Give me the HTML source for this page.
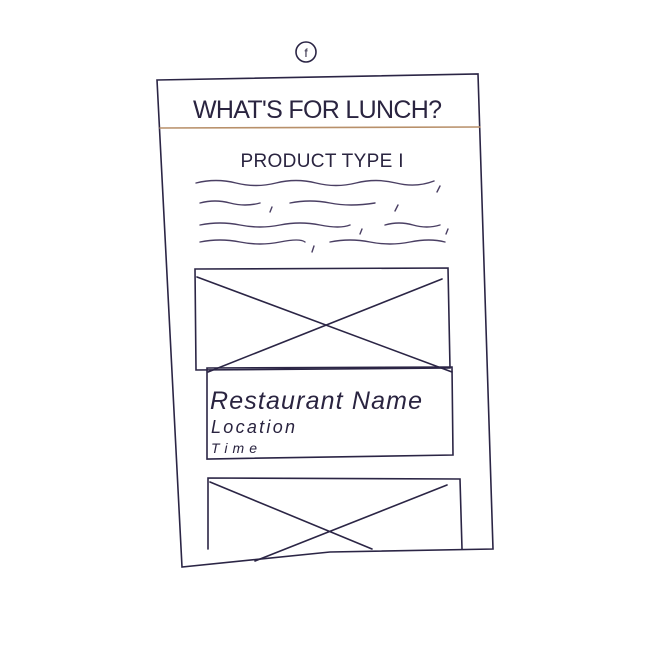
<!DOCTYPE html>
<html><head><meta charset="utf-8"><style>
html,body{margin:0;padding:0;background:#fff;width:646px;height:646px;overflow:hidden}
svg{display:block}
text{font-family:"Liberation Sans",sans-serif;fill:#2a2440}
</style></head><body>
<svg width="646" height="646" viewBox="0 0 646 646">
<g stroke="#2b2545" stroke-width="1.6" fill="none" stroke-linecap="round">
  <circle cx="306" cy="52" r="10"/>
  <path d="M157 80 L478 74 L493 549 L330 552 L182 567 Z"/>
  <path d="M160 128 L480 127" stroke="#b8906a"/>
  <g stroke="#4a3f63" stroke-width="1.4">
    <path d="M196 183 q20 -5 40 0 t40 0 t40 0 t40 0 t40 0 t38 -2"/>
    <path d="M440 186 l-3 6"/>
    <path d="M200 203 q15 -4 30 0 t30 0"/>
    <path d="M272 207 l-2 5"/>
    <path d="M290 203 q20 -4 40 0 t45 0"/>
    <path d="M398 205 l-3 6"/>
    <path d="M200 225 q20 -4 40 0 t40 0 t40 0 t30 0"/>
    <path d="M362 229 l-2 5"/>
    <path d="M385 225 q14 -4 28 0 t27 0"/>
    <path d="M448 229 l-2 5"/>
    <path d="M200 242 q20 -4 40 0 t40 0 t25 0"/>
    <path d="M314 246 l-2 6"/>
    <path d="M330 242 q20 -4 40 0 t40 0 t35 0"/>
  </g>
  <g>
    <path d="M195 269 L448 268 L450 368 L196 370 Z"/>
    <path d="M197 277 L452 372"/>
    <path d="M442 279 L208 372"/>
  </g>
  <path d="M207 368 L452 367 L453 455 L207 459 Z"/>
  <g>
    <path d="M208 549 L208 478 L460 479 L462 549"/>
    <path d="M210 482 L372 549"/>
    <path d="M447 485 L255 561"/>
  </g>
</g>
<text x="306" y="57" font-size="12" text-anchor="middle">f</text>
<text x="318" y="118" font-size="25" text-anchor="middle" textLength="250" letter-spacing="1">WHAT'S FOR LUNCH?</text>
<text x="322" y="167" font-size="19" text-anchor="middle" textLength="163">PRODUCT TYPE I</text>
<text x="210" y="409" font-size="25" font-style="italic" textLength="212">Restaurant Name</text>
<text x="211" y="433" font-size="18" font-style="italic" textLength="84">Location</text>
<text x="211" y="453" font-size="14" font-style="italic" textLength="46">Time</text>
</svg>
</body></html>
